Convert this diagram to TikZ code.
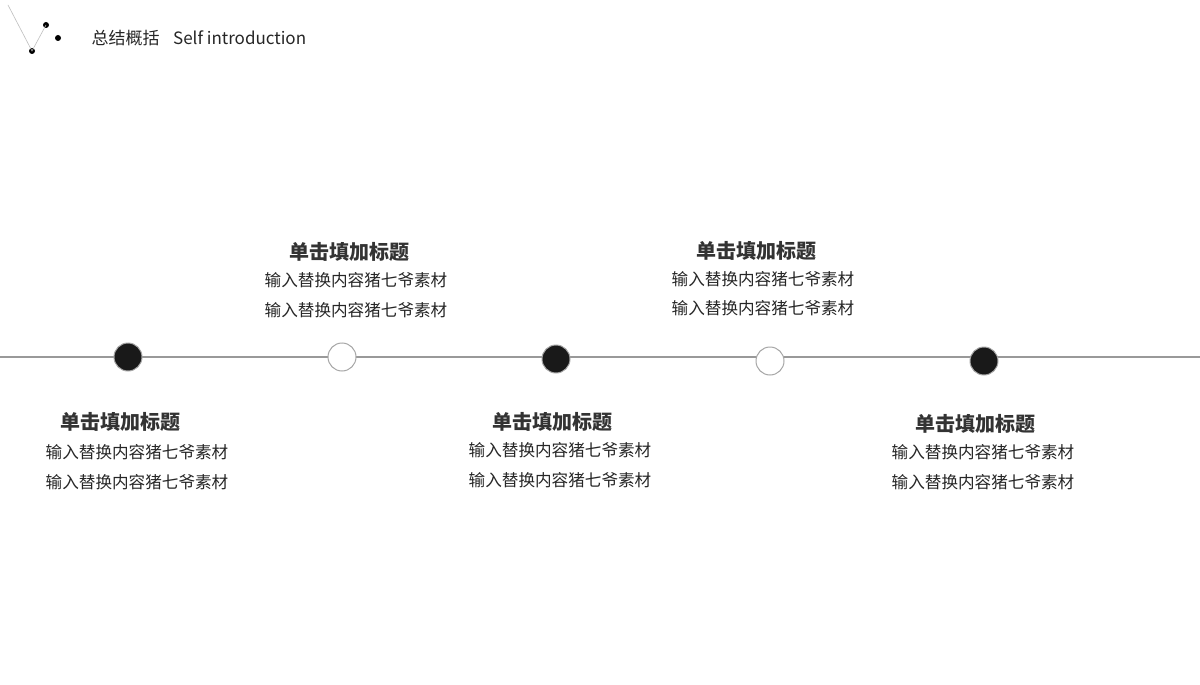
\documentclass[tikz,border=0pt]{standalone}
\usepackage{fontspec}
\setmainfont{Noto Sans CJK SC}
\begin{document}
\begin{tikzpicture}[x=1pt,y=-1pt,
  dotb/.style={circle,draw=gray!70,fill=black!90,minimum size=28pt,inner sep=0pt,line width=1pt},
  dotw/.style={circle,draw=gray!70,fill=white,minimum size=28pt,inner sep=0pt,line width=1pt},
  ttl/.style={font=\fontsize{20}{24}\selectfont\bfseries,text=black!80},
  bod/.style={font=\fontsize{16.6}{20}\selectfont,text=black!85},
  dot/.style={circle,fill=black,minimum size=6pt,inner sep=0pt}]
\useasboundingbox (0,0) rectangle (1200,685);
\fill[white] (0,0) rectangle (1200,685);
% logo
\coordinate (l0) at (8,5);
\node[dot] (d1) at (32,51) {};
\node[dot] (d2) at (46,25) {};
\node[dot] (d3) at (58,38) {};
\draw[gray!50,line width=0.6pt] (l0) -- (d1.center) -- (d2.center);
\node[anchor=west,font=\fontsize{17}{20}\selectfont,text=black!85] (hdr) at (88,38) {总结概括\hspace{0.8em}Self introduction};
% timeline
\coordinate (ls) at (0,357);
\coordinate (le) at (1200,357);
\draw[gray!80,line width=1.5pt] (ls) -- (le);
\node[dotb] (c1) at (128,357) {};
\node[dotw] (c2) at (342,357) {};
\node[dotb] (c3) at (556,359) {};
\node[dotw] (c4) at (770,361) {};
\node[dotb] (c5) at (984,361) {};
% texts
\node[ttl] (t1) at (120,422) {单击填加标题};
\node[bod] (a1) at (137,452) {输入替换内容猪七爷素材};
\node[bod] (b1) at (137,482) {输入替换内容猪七爷素材};
\node[ttl] (t2) at (349,252) {单击填加标题};
\node[bod] (a2) at (356,280) {输入替换内容猪七爷素材};
\node[bod] (b2) at (356,310) {输入替换内容猪七爷素材};
\node[ttl] (t3) at (552,422) {单击填加标题};
\node[bod] (a3) at (560,450) {输入替换内容猪七爷素材};
\node[bod] (b3) at (560,480) {输入替换内容猪七爷素材};
\node[ttl] (t4) at (756,251) {单击填加标题};
\node[bod] (a4) at (763,279) {输入替换内容猪七爷素材};
\node[bod] (b4) at (763,308) {输入替换内容猪七爷素材};
\node[ttl] (t5) at (975,424) {单击填加标题};
\node[bod] (a5) at (983,452) {输入替换内容猪七爷素材};
\node[bod] (b5) at (983,482) {输入替换内容猪七爷素材};
\end{tikzpicture}
\end{document}
